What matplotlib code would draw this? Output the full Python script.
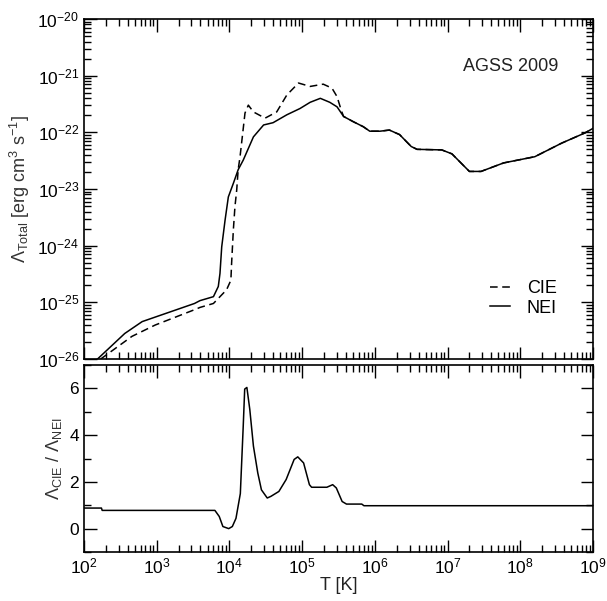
import numpy as np
import matplotlib
matplotlib.use("Agg")
import matplotlib.pyplot as plt
from matplotlib.ticker import LogLocator, MultipleLocator, NullFormatter

plt.rcParams['font.family'] = ['Liberation Sans', 'DejaVu Sans']
plt.rcParams['mathtext.fontset'] = 'custom'
plt.rcParams['mathtext.rm'] = 'Liberation Sans'
plt.rcParams['mathtext.it'] = 'Liberation Sans:italic'
plt.rcParams['axes.unicode_minus'] = False

# ---- data ----
# NEI total cooling: log10 T, log10 Lambda
nei_logT = [2.186, 2.56, 2.80, 3.25, 3.52, 3.595, 3.78, 3.847, 3.87, 3.894, 3.94, 3.985,
            4.054, 4.12, 4.19, 4.33, 4.47, 4.60, 4.79, 4.97, 5.11, 5.25, 5.38, 5.48,
            5.57, 5.70, 5.84, 5.93, 6.07, 6.20, 6.34, 6.50, 6.58, 6.92, 7.06, 7.30,
            7.46, 7.77, 8.20, 8.57, 8.89, 9.0]
nei_logL = [-26.0, -25.55, -25.34, -25.14, -25.02, -24.97, -24.90, -24.72, -24.49, -24.02,
            -23.55, -23.14, -22.90, -22.66, -22.49, -22.08, -21.87, -21.83, -21.69, -21.58,
            -21.47, -21.40, -21.47, -21.55, -21.72, -21.81, -21.90, -21.98, -21.98, -21.96,
            -22.04, -22.25, -22.30, -22.31, -22.38, -22.69, -22.69, -22.54, -22.43, -22.19,
            -22.01, -21.93]

# CIE total cooling
cie_logT = [2.23, 2.66, 2.98, 3.52, 3.595, 3.78, 3.96, 4.02, 4.03, 4.054, 4.076, 4.10,
            4.12, 4.146, 4.214, 4.26, 4.33, 4.49, 4.65, 4.79, 4.95, 5.11, 5.29, 5.41,
            5.48, 5.54, 5.57, 5.70, 5.84, 5.93, 6.07, 6.20, 6.34, 6.50, 6.58, 6.92,
            7.06, 7.30, 7.46, 7.77, 8.20, 8.57, 8.89, 9.0]
cie_logL = [-26.0, -25.60, -25.40, -25.13, -25.09, -25.02, -24.78, -24.61, -24.31, -23.72,
            -23.31, -23.02, -22.66, -22.43, -21.66, -21.52, -21.64, -21.75, -21.64, -21.34,
            -21.13, -21.19, -21.15, -21.22, -21.37, -21.62, -21.72, -21.81, -21.90, -21.98,
            -21.98, -21.96, -22.04, -22.25, -22.30, -22.31, -22.38, -22.69, -22.69, -22.54,
            -22.43, -22.19, -22.01, -21.93]

# ratio CIE / NEI
ratio_logT = [2.0, 2.24, 2.25, 3.80, 3.86, 3.91, 3.99, 4.04, 4.09, 4.15, 4.19, 4.21, 4.24,
              4.28, 4.33, 4.39, 4.44, 4.52, 4.57, 4.68, 4.78, 4.89, 4.94, 5.02, 5.10,
              5.13, 5.34, 5.42, 5.47, 5.55, 5.61, 5.82, 5.85, 9.0]
ratio_val = [0.88, 0.88, 0.78, 0.78, 0.52, 0.09, 0.0, 0.09, 0.44, 1.5, 4.4, 5.97, 6.04,
             5.1, 3.53, 2.38, 1.66, 1.31, 1.38, 1.59, 2.1, 2.96, 3.07, 2.81, 1.88,
             1.77, 1.77, 1.88, 1.74, 1.16, 1.05, 1.05, 0.98, 0.98]

fig = plt.figure(figsize=(6.07, 6.01), dpi=100)
ax1 = fig.add_axes([84/607, 1-359/601, 509/607, 340/601])
ax2 = fig.add_axes([84/607, 1-552/601, 509/607, 187/601])

lw = 1.1
ax1.plot(10**np.array(cie_logT), 10**np.array(cie_logL), color='black', lw=lw,
         ls=(0, (5, 3)), label='CIE')
ax1.plot(10**np.array(nei_logT), 10**np.array(nei_logL), color='black', lw=lw,
         ls='-', label='NEI')
ax2.plot(10**np.array(ratio_logT), ratio_val, color='black', lw=lw)

for ax in (ax1, ax2):
    ax.set_xscale('log')
    ax.set_xlim(1e2, 1e9)
    ax.xaxis.set_major_locator(LogLocator(base=10, numticks=20))
    ax.xaxis.set_minor_locator(LogLocator(base=10, subs=np.arange(2, 10), numticks=20))
    ax.xaxis.set_minor_formatter(NullFormatter())
    ax.tick_params(which='both', direction='in', top=True, right=True, width=1.0)
    ax.tick_params(which='major', length=9, labelsize=12.5)
    ax.tick_params(which='minor', length=5)
    for s in ax.spines.values():
        s.set_linewidth(1.2)

ax1.set_yscale('log')
ax1.set_ylim(1e-26, 1e-20)
ax1.yaxis.set_major_locator(LogLocator(base=10, numticks=20))
ax1.yaxis.set_minor_locator(LogLocator(base=10, subs=np.arange(2, 10), numticks=20))
ax1.yaxis.set_minor_formatter(NullFormatter())
ax1.tick_params(axis='x', labelbottom=False)
ax1.set_ylabel(r'$\Lambda_{\rm Total}$ [erg cm$^3$ s$^{-1}$]', fontsize=13, color='#333333')

ax1.text(0.931, 0.859, 'AGSS 2009', transform=ax1.transAxes, ha='right', va='center',
         fontsize=13, color='#222222')
ax1.legend(loc='upper left', bbox_to_anchor=(0.765, 0.28), frameon=False, fontsize=13,
           handlelength=1.15, handletextpad=0.9, labelspacing=0.15)

ax2.set_ylim(-1, 7)
ax2.yaxis.set_major_locator(MultipleLocator(2))
ax2.yaxis.set_minor_locator(MultipleLocator(1))
ax2.set_ylabel(r'$\Lambda_{\rm CIE}$ / $\Lambda_{\rm NEI}$', fontsize=13, color='#333333')
ax2.set_xlabel('T [K]', fontsize=13, labelpad=0, color='#222222')

fig.savefig('out.png', dpi=100)
